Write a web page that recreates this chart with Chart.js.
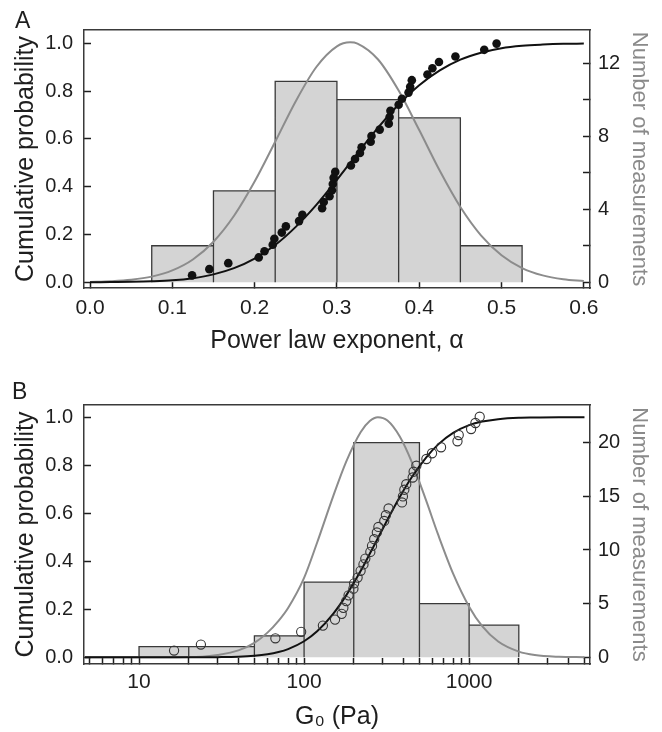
<!DOCTYPE html>
<html>
<head>
<meta charset="utf-8">
<script src="https://cdn.jsdelivr.net/npm/chart.js@4.4.1/dist/chart.umd.min.js"></script>
<style>
  html, body { margin: 0; padding: 0; background: #fff; }
  #wrap { position: relative; width: 662px; height: 732px; overflow: hidden; }
  canvas { position: absolute; left: 0; }
  .panel { position: absolute; font: 23px "Liberation Sans", Arial, sans-serif; line-height: 23px; color: #1e1e1e; }
</style>
</head>
<body>
<div id="wrap">
  <canvas id="chartA" width="662" height="366" style="top:0"></canvas>
  <canvas id="chartB" width="662" height="366" style="top:366px"></canvas>
  <div class="panel" style="left:15px;top:9px">A</div>
  <div class="panel" style="left:12px;top:380px">B</div>
</div>
<script>
const FONT = '"Liberation Sans", Arial, Helvetica, sans-serif';
const INK = '#1e1e1e';
const FRAME = '#3a3a3a';
const BAR_FILL = '#d4d4d4';
const GAUSS = '#8c8c8c';

// shared left axis
const probTicks = [0, 0.2, 0.4, 0.6, 0.8, 1.0];

// Panel A: power law exponent
const alphaBinEdges = [0.075, 0.15, 0.225, 0.3, 0.375, 0.45, 0.525];
const alphaBinCounts = [2, 5, 11, 10, 9, 2];
const alphaPtX = [0.124, 0.145, 0.168, 0.205, 0.212, 0.222, 0.224, 0.233, 0.238, 0.254,
  0.258, 0.282, 0.284, 0.291, 0.294, 0.295, 0.296, 0.298, 0.317, 0.322,
  0.328, 0.330, 0.341, 0.342, 0.352, 0.363, 0.364, 0.365, 0.375, 0.379,
  0.387, 0.389, 0.391, 0.410, 0.416, 0.424, 0.444, 0.479, 0.494];
const alphaPtY = [0.029, 0.055, 0.080, 0.104, 0.130, 0.157, 0.182, 0.208, 0.234, 0.256,
  0.282, 0.310, 0.336, 0.360, 0.385, 0.411, 0.437, 0.462, 0.489, 0.516,
  0.541, 0.565, 0.588, 0.612, 0.639, 0.664, 0.692, 0.718, 0.743, 0.768,
  0.794, 0.818, 0.846, 0.870, 0.896, 0.922, 0.945, 0.973, 0.999];
const alphaFitX = [0, 0.025, 0.05, 0.075, 0.1, 0.125, 0.15, 0.175, 0.2, 0.225, 0.25, 0.275, 0.3,
  0.316, 0.325, 0.35, 0.375, 0.4, 0.425, 0.45, 0.475, 0.5, 0.525, 0.55, 0.575, 0.6];
const alphaFitPdf = [0.02, 0.06, 0.14, 0.31, 0.65, 1.25, 2.22, 3.64, 5.51, 7.69, 9.91, 11.78, 12.91,
  13.13, 13.06, 12.19, 10.49, 8.33, 6.10, 4.12, 2.57, 1.48, 0.78, 0.38, 0.17, 0.07];
const alphaFitCdf = [0.000, 0.001, 0.002, 0.004, 0.008, 0.017, 0.033, 0.059, 0.099, 0.156, 0.232, 0.324, 0.429,
  0.500, 0.540, 0.647, 0.744, 0.825, 0.887, 0.932, 0.961, 0.980, 0.990, 0.995, 0.998, 0.999];
const alphaTicks = [0, 0.1, 0.2, 0.3, 0.4, 0.5, 0.6];
const alphaCountTicks = [0, 2, 4, 6, 8, 10, 12];
const alphaCountLabels = [0, 4, 8, 12];

// Panel B: G0
const g0BinEdges = [10, 20, 50, 100, 200, 500, 1000, 2000];
const g0BinCounts = [1, 1, 2, 7, 20, 5, 3];
const g0PtX = [16.3, 23.7, 67, 96, 130, 154, 169, 173, 180, 186,
  199, 201, 211, 220, 229, 235, 252, 258, 266, 276,
  282, 306, 313, 325, 392, 397, 405, 416, 455, 461,
  479, 551, 596, 676, 850, 865, 1028, 1092, 1159];
const g0PtY = [0.028, 0.053, 0.079, 0.106, 0.132, 0.157, 0.181, 0.206, 0.234, 0.258,
  0.286, 0.308, 0.332, 0.360, 0.387, 0.411, 0.439, 0.464, 0.492, 0.520,
  0.543, 0.568, 0.592, 0.620, 0.645, 0.670, 0.698, 0.721, 0.749, 0.773,
  0.798, 0.826, 0.850, 0.875, 0.900, 0.926, 0.951, 0.976, 1.002];
const g0FitX = [4.7, 10, 15, 20, 25, 30, 40, 50, 60, 70, 80, 100, 120, 150, 180, 220, 250, 280, 320, 380,
  450, 550, 650, 800, 1000, 1200, 1500, 2000, 2500, 3500, 5000];
const g0FitPdf = [0, 0, 0.01, 0.03, 0.08, 0.22, 0.65, 1.35, 2.3, 3.4, 4.6, 7.4, 10.7, 15.0, 18.24, 20.98, 22.02, 22.37, 22.06, 20.57,
  18.17, 14.57, 11.40, 7.80, 4.72, 2.91, 1.47, 0.53, 0.21, 0.05, 0.01];
const g0FitCdf = [0, 0, 0, 0.0001, 0.0002, 0.0006, 0.0023, 0.0062, 0.0125, 0.0218, 0.0341, 0.0668, 0.108, 0.181, 0.258, 0.359, 0.431, 0.496, 0.573, 0.668,
  0.751, 0.833, 0.887, 0.935, 0.967, 0.982, 0.992, 0.998, 0.999, 1.0, 1.0];
const g0Ticks = [5, 6, 7, 8, 9, 10, 20, 30, 40, 50, 60, 70, 80, 90, 100, 200, 300, 400, 500, 600, 700, 800, 900,
  1000, 2000, 3000, 4000, 5000];
const g0Labels = [10, 100, 1000];
const g0CountTicks = [0, 5, 10, 15, 20];

const pairs = (xs, ys) => xs.map((x, i) => ({ x, y: ys[i] }));

// outline of the histogram: up, across, down for each bin
function histOutline(edges, counts) {
  const pts = [];
  counts.forEach((c, i) => {
    pts.push({ x: edges[i], y: 0 }, { x: edges[i], y: c }, { x: edges[i + 1], y: c }, { x: edges[i + 1], y: 0 });
  });
  return pts;
}

function panel(id, p) {
  const tickGrid = len => ({ drawOnChartArea: false, tickLength: len, tickColor: INK, tickWidth: 1.5 });
  const border = { display: true, color: FRAME, width: 1.5 };
  return new Chart(document.getElementById(id), {
    type: 'scatter',
    data: {
      datasets: [
        { data: pairs(p.ptX, p.ptY), xAxisID: 'x', yAxisID: 'y', ...p.pointStyle },
        { data: pairs(p.fitX, p.fitCdf), xAxisID: 'x', yAxisID: 'y', showLine: true, borderColor: '#111', borderWidth: 2,
          pointRadius: 0, cubicInterpolationMode: 'monotone' },
        { data: pairs(p.fitX, p.fitPdf), xAxisID: 'x', yAxisID: 'y2', showLine: true, borderColor: GAUSS, borderWidth: 2,
          pointRadius: 0, cubicInterpolationMode: 'monotone' },
        { data: histOutline(p.edges, p.counts), xAxisID: 'x', yAxisID: 'y2', showLine: true, borderColor: FRAME,
          borderWidth: 1.3, backgroundColor: BAR_FILL, fill: 'origin', pointRadius: 0, tension: 0, borderJoinStyle: 'miter' },
      ],
    },
    options: {
      responsive: false, animation: false, events: [],
      layout: { padding: 0, autoPadding: false },
      plugins: { legend: { display: false }, tooltip: { enabled: false } },
      scales: {
        x: {
          type: p.xType, position: 'bottom', min: p.xMin, max: p.xMax,
          afterBuildTicks: s => { s.ticks = p.xTicks.map(v => ({ value: v })); },
          afterFit: s => { s.height = p.bottom; },
          ticks: { callback: p.xLabel, color: INK, font: { family: FONT, size: 21 }, padding: p.xTickPad, maxRotation: 0, autoSkip: false },
          grid: tickGrid(-6),
          border,
          title: { display: true, text: p.xTitle, color: INK, font: { family: FONT, size: 25 }, padding: { top: 0, bottom: p.xTitlePad } },
        },
        xTop: {
          type: 'linear', position: 'top',
          afterFit: s => { s.height = p.top; },
          ticks: { display: false },
          grid: { drawOnChartArea: false, drawTicks: false },
          border,
        },
        y: {
          position: 'left', min: p.yMin, max: p.yMax,
          afterBuildTicks: s => { s.ticks = probTicks.map(v => ({ value: v })); },
          afterFit: s => { s.width = 84; },
          ticks: { callback: v => v.toFixed(1), color: INK, font: { family: FONT, size: 20 }, padding: 18 },
          grid: tickGrid(-7),
          border,
          title: { display: true, text: 'Cumulative probability', color: INK, font: { family: FONT, size: 25 }, padding: { top: 11, bottom: 0 } },
        },
        y2: {
          position: 'right', min: p.cMin, max: p.cMax,
          afterBuildTicks: s => { s.ticks = p.countTicks.map(v => ({ value: v })); },
          afterFit: s => { s.width = 72; },
          ticks: { callback: v => (p.countLabels.includes(v) ? String(v) : ''), color: INK, font: { family: FONT, size: 20 }, padding: 15 },
          grid: tickGrid(-7),
          border,
          title: { display: true, text: 'Number of measurements', color: '#8a8a8a', font: { family: FONT, size: 22 }, padding: { top: 10, bottom: 0 } },
        },
      },
    },
  });
}

panel('chartA', {
  ptX: alphaPtX, ptY: alphaPtY, fitX: alphaFitX, fitPdf: alphaFitPdf, fitCdf: alphaFitCdf,
  edges: alphaBinEdges, counts: alphaBinCounts,
  pointStyle: { pointRadius: 4.3, backgroundColor: '#111', borderWidth: 0 },
  xType: 'linear', xMin: -0.0073, xMax: 0.6075, xTicks: alphaTicks, xLabel: v => v.toFixed(1),
  xTitle: 'Power law exponent, \u03b1', xTickPad: 14, xTitlePad: 10,
  yMin: -0.024, yMax: 1.056, cMin: -0.312, cMax: 13.806,
  countTicks: alphaCountTicks, countLabels: alphaCountLabels,
  top: 30, bottom: 78,
});

panel('chartB', {
  ptX: g0PtX, ptY: g0PtY, fitX: g0FitX, fitPdf: g0FitPdf, fitCdf: g0FitCdf,
  edges: g0BinEdges, counts: g0BinCounts,
  pointStyle: { pointRadius: 4.6, backgroundColor: 'rgba(255,255,255,0)', borderColor: '#333', borderWidth: 1.1 },
  xType: 'logarithmic', xMin: 4.64, xMax: 5400, xTicks: g0Ticks, xLabel: v => (g0Labels.includes(v) ? String(v) : ''),
  xTitle: 'G\u2080 (Pa)', xTickPad: 12, xTitlePad: 0,
  yMin: -0.028, yMax: 1.051, cMin: -0.624, cMax: 23.51,
  countTicks: g0CountTicks, countLabels: g0CountTicks,
  top: 39, bottom: 68,
});
</script>
</body>
</html>
